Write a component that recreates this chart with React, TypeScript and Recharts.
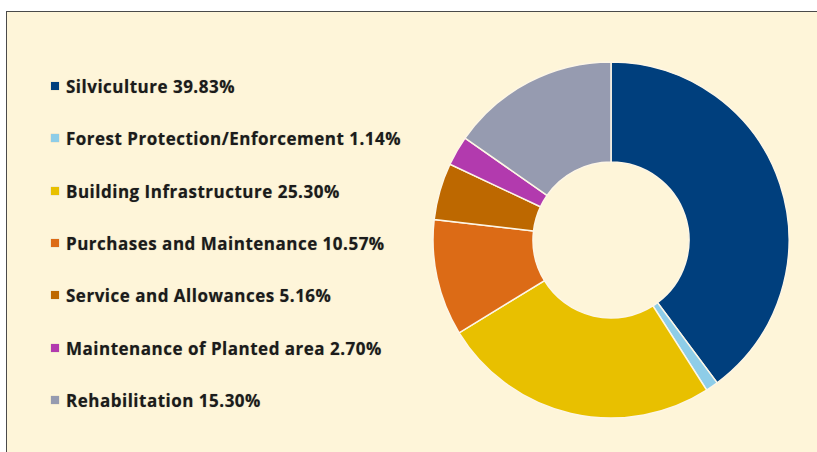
import React from "react";
import { Legend, Pie, PieChart } from "recharts";

const categories = [
  "Silviculture",
  "Forest Protection/Enforcement",
  "Building Infrastructure",
  "Purchases and Maintenance",
  "Service and Allowances",
  "Maintenance of Planted area",
  "Rehabilitation",
];
const shares = [39.83, 1.14, 25.3, 10.57, 5.16, 2.7, 15.3];
const colors = [
  "#003f7d",
  "#8ecde8",
  "#e8c000",
  "#dc6b16",
  "#bd6800",
  "#b23aae",
  "#969bb0",
];

const data = categories.map((name, i) => ({
  name,
  value: shares[i],
  fill: colors[i],
}));

const CustomLegend: React.FC = () => {
  return (
    <div style={{ position: "relative", width: 380, height: 360 }}>
      {data.map((d, i) => (
        <div
          key={d.name}
          style={{
            position: "absolute",
            left: 0,
            top: i * 52.3,
            height: 20,
            display: "flex",
            alignItems: "flex-start",
            whiteSpace: "nowrap",
          }}
        >
          <span
            style={{
              display: "inline-block",
              width: 8,
              height: 8,
              marginTop: 5,
              marginRight: 7,
              background: d.fill,
              boxShadow: "0 0 1px rgba(0,0,0,0.25)",
            }}
          />
          <span
            style={{
              fontFamily: "'Open Sans', sans-serif",
              fontWeight: 700,
              fontSize: 17,
              letterSpacing: 0.5,
              lineHeight: "20px",
              color: "#1b1b1b",
              textShadow: "0 0 1px rgba(0,0,0,0.35)",
            }}
          >
            {`${d.name} ${d.value.toFixed(2)}%`}
          </span>
        </div>
      ))}
    </div>
  );
};

export default function App() {
  return (
    <div
      style={{
        position: "absolute",
        left: 0,
        top: 0,
        width: 817,
        height: 452,
        background: "#ffffff",
        overflow: "hidden",
      }}
    >
      <div
        style={{
          position: "absolute",
          left: 6,
          top: 11,
          width: 830,
          height: 460,
          background: "#fef5d9",
          borderLeft: "1.5px solid #4a4a4a",
          borderTop: "1.5px solid #4a4a4a",
          boxSizing: "border-box",
        }}
      />
      <div style={{ position: "absolute", left: 0, top: 0 }}>
        <PieChart width={817} height={452} margin={{ top: 0, right: 0, bottom: 0, left: 0 }}>
          <Pie
            data={data}
            dataKey="value"
            nameKey="name"
            cx={611}
            cy={240}
            innerRadius={78}
            outerRadius={178}
            startAngle={90}
            endAngle={-270}
            stroke="#fdf6e6"
            strokeWidth={1.5}
            isAnimationActive={false}
          />
          <Legend
            layout="vertical"
            align="center"
            verticalAlign="middle"
            content={<CustomLegend />}
            wrapperStyle={{ left: 51, top: 77, width: 380 }}
          />
        </PieChart>
      </div>
    </div>
  );
}
